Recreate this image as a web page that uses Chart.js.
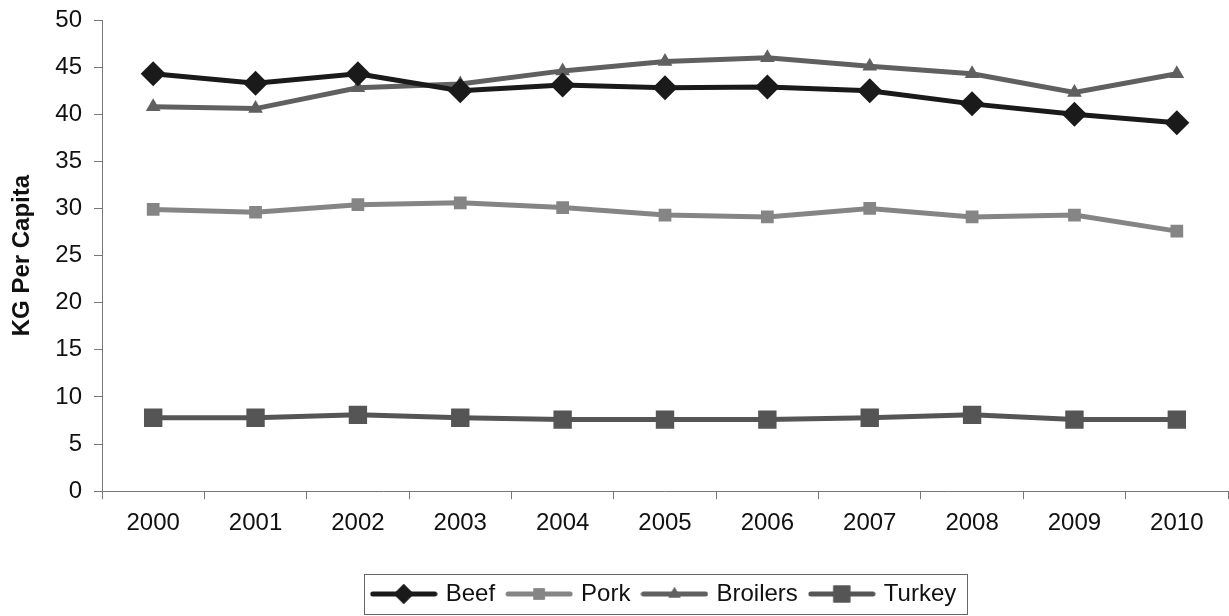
<!DOCTYPE html>
<html lang="en">
<head>
  <meta charset="UTF-8">
  <title>KG Per Capita 2000-2010</title>
  <script src="https://cdn.jsdelivr.net/npm/chart.js"></script>
  <style>
    html, body { margin: 0; padding: 0; background: #fff; }
    #wrap { width: 1229px; height: 616px; }
  </style>
</head>
<body>
<div id="wrap"><canvas id="meatChart" width="1229" height="616"></canvas></div>
<script>
const years = ['2000','2001','2002','2003','2004','2005','2006','2007','2008','2009','2010'];
const beef     = [44.3, 43.3, 44.3, 42.5, 43.1, 42.8, 42.9, 42.5, 41.1, 40.0, 39.1];
const pork     = [29.9, 29.6, 30.4, 30.6, 30.1, 29.3, 29.1, 30.0, 29.1, 29.3, 27.6];
const broilers = [40.8, 40.6, 42.8, 43.2, 44.6, 45.6, 46.0, 45.1, 44.3, 42.3, 44.3];
const turkey   = [7.8, 7.8, 8.1, 7.8, 7.6, 7.6, 7.6, 7.8, 8.1, 7.6, 7.6];
const yTicks   = [0, 5, 10, 15, 20, 25, 30, 35, 40, 45, 50];

const FONT = 'Arial, "Liberation Sans", sans-serif';

// legend swatch: a short thick line with the marker in the middle
function swatch(color, style, r) {
  const c = document.createElement('canvas');
  c.width = 68; c.height = 26;
  const ctx = c.getContext('2d');
  ctx.strokeStyle = color;
  ctx.lineWidth = 5;
  ctx.lineCap = 'round';
  ctx.beginPath(); ctx.moveTo(3, 13); ctx.lineTo(65, 13); ctx.stroke();
  ctx.fillStyle = color;
  Chart.helpers.drawPoint(ctx, { pointStyle: style, radius: r, borderWidth: 0 }, 34, 13);
  ctx.fill();
  return c;
}

const series = [
  { label: 'Beef',     data: beef,     color: '#1a1a1a', style: 'rectRot',  r: 12.5, lr: 10 },
  { label: 'Pork',     data: pork,     color: '#858585', style: 'rect',     r: 9,    lr: 8 },
  { label: 'Broilers', data: broilers, color: '#606060', style: 'triangle', r: 8.5,  lr: 7 },
  { label: 'Turkey',   data: turkey,   color: '#555555', style: 'rect',     r: 13,   lr: 12 }
];

// thin frame around the legend items only
const legendBox = {
  id: 'legendBox',
  afterDraw(chart) {
    const l = chart.legend;
    if (!l || !l.legendHitBoxes || !l.legendHitBoxes.length) return;
    const hb = l.legendHitBoxes;
    const left = Math.min(...hb.map(b => b.left)) - 10;
    const right = Math.max(...hb.map(b => b.left + b.width)) + 10;
    const top = Math.min(...hb.map(b => b.top)) - 8;
    const bottom = Math.max(...hb.map(b => b.top + b.height)) + 8;
    const ctx = chart.ctx;
    ctx.save();
    ctx.strokeStyle = '#666';
    ctx.lineWidth = 1;
    ctx.strokeRect(Math.round(left) + 0.5, Math.round(top) + 0.5, Math.round(right - left), Math.round(bottom - top));
    ctx.restore();
  }
};

new Chart(document.getElementById('meatChart'), {
  type: 'line',
  data: {
    labels: years,
    datasets: series.map(s => ({
      label: s.label,
      data: s.data,
      borderColor: s.color,
      backgroundColor: s.color,
      borderWidth: 5,
      pointStyle: s.style,
      pointRadius: s.r,
      pointHoverRadius: s.r,
      pointBorderWidth: 0,
      pointBackgroundColor: s.color,
      tension: 0,
      legendSwatch: swatch(s.color, s.style, s.lr)
    }))
  },
  options: {
    responsive: false,
    animation: false,
    layout: { autoPadding: false, padding: { top: 0, right: 1, left: 0, bottom: 0 } },
    plugins: {
      tooltip: { enabled: false },
      legend: {
        position: 'bottom',
        fullSize: false,
        labels: {
          usePointStyle: true,
          pointStyleWidth: 60,
          font: { family: FONT, size: 24 },
          color: '#111',
          padding: 14,
          generateLabels(chart) {
            return chart.data.datasets.map((d, i) => ({
              text: d.label,
              pointStyle: d.legendSwatch,
              fillStyle: d.borderColor,
              strokeStyle: d.borderColor,
              lineWidth: 0,
              fontColor: '#111',
              hidden: false,
              datasetIndex: i
            }));
          }
        }
      }
    },
    scales: {
      x: {
        offset: true,
        grid: { offset: true, drawOnChartArea: false, drawTicks: true, tickLength: 8, color: '#777' },
        border: { color: '#777' },
        ticks: { font: { family: FONT, size: 24 }, color: '#111', padding: 10 },
        afterFit(axis) { axis.height += 20; axis.paddingLeft = 0; axis.paddingRight = 0; }
      },
      y: {
        min: 0,
        max: 50,
        afterBuildTicks(axis) { axis.ticks = yTicks.map(v => ({ value: v })); },
        grid: { drawOnChartArea: false, drawTicks: true, tickLength: 8, color: '#777' },
        border: { color: '#777' },
        ticks: { font: { family: FONT, size: 24 }, color: '#111', padding: 12 },
        title: { display: true, text: 'KG Per Capita', font: { family: FONT, size: 24, weight: 'bold' }, color: '#111', padding: { top: 8, bottom: 4 } },
        afterFit(axis) { axis.width = 102; axis.paddingTop = 20; }
      }
    }
  },
  plugins: [legendBox]
});
</script>
</body>
</html>
